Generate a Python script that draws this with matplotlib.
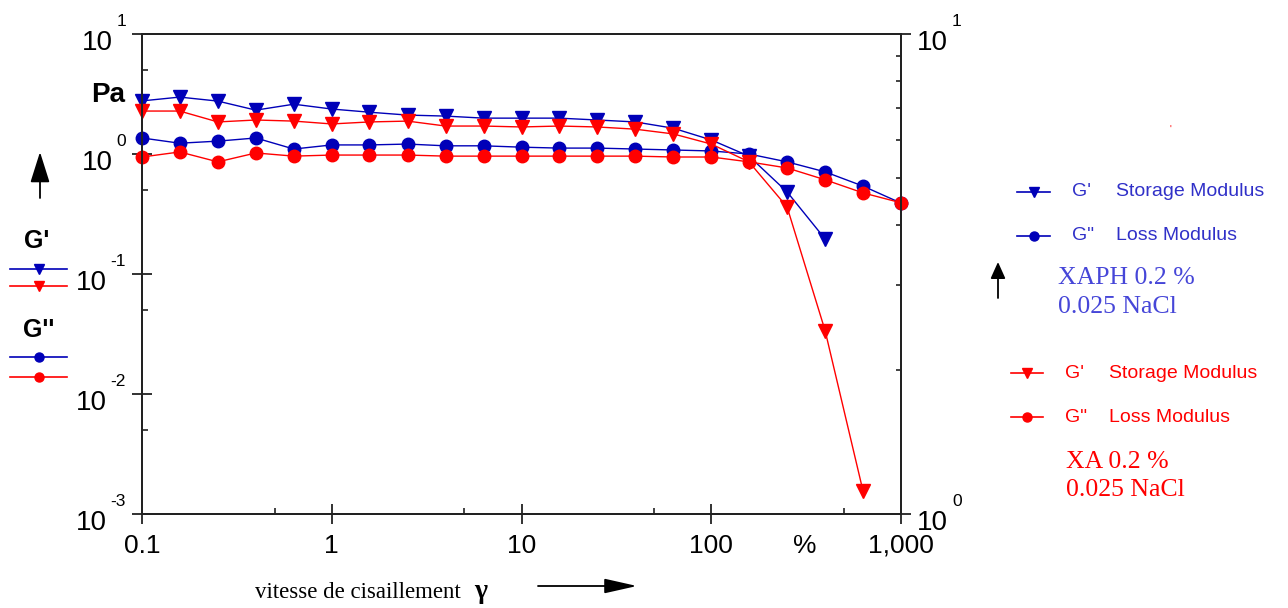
import matplotlib
matplotlib.use('Agg')
import matplotlib.pyplot as plt
from matplotlib.lines import Line2D

W, H = 1288, 608

# shear rate (%) and moduli (Pa)
shear = [0.1, 0.158, 0.251, 0.398, 0.631, 1, 1.58, 2.51, 3.98, 6.31, 10,
         15.8, 25.1, 39.8, 63.1, 100, 158, 251, 398, 631, 1000]

xaph_storage = [2.77, 2.98, 2.76, 2.32, 2.60, 2.37, 2.23, 2.11, 2.07, 1.99,
                1.99, 1.99, 1.92, 1.85, 1.64, 1.31, 0.96, 0.483, 0.196]
xaph_loss = [1.36, 1.23, 1.28, 1.36, 1.10, 1.19, 1.19, 1.21, 1.17, 1.17, 1.14,
             1.12, 1.12, 1.10, 1.08, 1.06, 1.0, 0.86, 0.71, 0.54, 0.39]
xa_storage = [2.28, 2.28, 1.85, 1.92, 1.88, 1.78, 1.85, 1.88, 1.71, 1.71,
              1.68, 1.71, 1.68, 1.61, 1.47, 1.21, 0.86, 0.362, 0.0338, 0.00155]
xa_loss = [0.944, 1.04, 0.86, 1.02, 0.96, 0.98, 0.98, 0.98, 0.96, 0.96, 0.96,
           0.96, 0.96, 0.96, 0.944, 0.944, 0.86, 0.765, 0.61, 0.474, 0.392]

x_ticks = [0.1, 1, 10, 100, 1000]
x_tick_labels = ['0.1', '1', '10', '100', '1,000']
y_exps = [-3, -2, -1, 0, 1]
y2_exps = [0, 1]

BLUE = '#0000b8'
RED = '#ff0000'
BLUE_TXT = '#3030c8'
SANS = 'Liberation Sans'
SERIF = 'Liberation Serif'

plt.rcParams['font.family'] = SANS

fig = plt.figure(figsize=(W / 100, H / 100), dpi=100)
ax = fig.add_axes([142 / W, 1 - 514 / H, (901 - 142) / W, (514 - 34) / H])
ax.set_xscale('log')
ax.set_yscale('log')
ax.set_xlim(0.1, 1000)
ax.set_ylim(1e-3, 10)

n_b = len(xaph_storage)
n_r = len(xa_storage)
ax.plot(shear[:n_b], xaph_storage, color=BLUE, lw=1.0, marker='v', ms=10, clip_on=False, zorder=3)
ax.plot(shear, xaph_loss, color=BLUE, lw=1.0, marker='o', ms=9, clip_on=False, zorder=3)
ax.plot(shear[:n_r], xa_storage, color=RED, lw=1.0, marker='v', ms=10, clip_on=False, zorder=4)
ax.plot(shear, xa_loss, color=RED, lw=1.0, marker='o', ms=9, clip_on=False, zorder=4)

# axes styling
for s in ax.spines.values():
    s.set_linewidth(1.4)
    s.set_color('#222222')
ax.set_xticks(x_ticks)
ax.set_xticks([0.5, 5, 50, 500], minor=True)
ax.set_yticks([10.0 ** e for e in y_exps])
ax.set_yticks([5 * 10.0 ** e for e in y_exps[:-1]], minor=True)
ax.set_xticklabels([])
ax.set_yticklabels([])
ax.set_xticklabels([], minor=True)
ax.set_yticklabels([], minor=True)
ax.tick_params(which='major', direction='inout', length=14, width=1.3, color='#222222')
ax.tick_params(which='minor', direction='in', length=4, width=1.2, color='#222222')

ax2 = ax.twinx()
ax2.set_yscale('log')
ax2.set_ylim(1, 10)
ax2.set_yticks([10.0 ** e for e in y2_exps])
ax2.set_yticks(list(range(2, 10)), minor=True)
ax2.set_yticklabels([])
ax2.set_yticklabels([], minor=True)
ax2.tick_params(which='major', direction='inout', length=14, width=1.3, color='#222222')
ax2.tick_params(which='minor', direction='in', length=3.5, width=1.2, color='#222222')
for s in ax2.spines.values():
    s.set_linewidth(1.4)
    s.set_color('#222222')

# tick labels drawn as 10 + raised exponent
EXP_PT = 12.5
EXP_PX = EXP_PT / 0.72
def exp_width(e):
    s = str(e)
    return EXP_PX * (0.556 * sum(c.isdigit() for c in s) + 0.333 * s.count('-'))

ytr = ax.get_yaxis_transform()
for e in y_exps:
    ew = exp_width(e)
    ax.annotate(str(e), xy=(0, 10.0 ** e), xycoords=ytr, xytext=(-16, 12),
                textcoords='offset pixels', ha='right', va='center', fontsize=EXP_PT)
    ax.annotate('10', xy=(0, 10.0 ** e), xycoords=ytr, xytext=(-16 - ew - 3.5, -9),
                textcoords='offset pixels', ha='right', va='center', fontsize=20)

ytr2 = ax2.get_yaxis_transform()
for e in y2_exps:
    ax2.annotate('10', xy=(1, 10.0 ** e), xycoords=ytr2, xytext=(16, -9),
                 textcoords='offset pixels', ha='left', va='center', fontsize=20)
    ax2.annotate(str(e), xy=(1, 10.0 ** e), xycoords=ytr2, xytext=(51, 12),
                 textcoords='offset pixels', ha='left', va='center', fontsize=EXP_PT)

xtr = ax.get_xaxis_transform()
for v, lab in zip(x_ticks, x_tick_labels):
    ax.annotate(lab, xy=(v, 0), xycoords=xtr, xytext=(0, -32), textcoords='offset pixels',
                ha='center', va='center', fontsize=19)
ax.annotate('%', xy=(0.8735, 0), xycoords='axes fraction', xytext=(0, -32),
            textcoords='offset pixels', ha='center', va='center', fontsize=19)


def ftext(x, y, s, **kw):
    fig.text(x / W, 1 - y / H, s, **kw)


def arrow(x1, y1, x2, y2, hl, hw):
    ax.annotate('', xy=(x2, H - y2), xycoords='figure pixels',
                xytext=(x1, H - y1), textcoords='figure pixels', annotation_clip=False,
                arrowprops=dict(arrowstyle=f'-|>,head_length={hl},head_width={hw}',
                                mutation_scale=10, color='black', lw=1.3,
                                shrinkA=0, shrinkB=0))


def key(x1, x2, y, color, marker, ms):
    fig.add_artist(Line2D([x1 / W, (x1 + x2) / 2 / W, x2 / W], [1 - y / H] * 3,
                          color=color, lw=1.2, marker=marker, ms=ms, markevery=[1],
                          transform=fig.transFigure))


ftext(108, 95, 'Pa', fontsize=20, fontweight='bold', ha='center', va='center')
arrow(40, 198, 40, 152, 1.9, 0.6)

# left key
ftext(37, 241, "G'", fontsize=18, fontweight='bold', ha='center', va='center')
key(10, 67, 269, BLUE, 'v', 7)
key(10, 67, 286, RED, 'v', 7)
ftext(39, 330, "G''", fontsize=18, fontweight='bold', ha='center', va='center')
key(10, 67, 357, BLUE, 'o', 6.5)
key(10, 67, 377, RED, 'o', 6.5)

# right legend
key(1017, 1050, 192, BLUE, 'v', 7)
ftext(1072, 192, "G'", fontsize=14, color=BLUE_TXT, va='center')
ftext(1116, 192, 'Storage Modulus', fontsize=14, color=BLUE_TXT, va='center')
key(1017, 1050, 236, BLUE, 'o', 6.5)
ftext(1072, 236, 'G"', fontsize=14, color=BLUE_TXT, va='center')
ftext(1116, 236, 'Loss Modulus', fontsize=14, color=BLUE_TXT, va='center')
arrow(998, 298, 998, 262, 1.0, 0.45)
ftext(1058, 278, 'XAPH 0.2 %', fontsize=18.5, family=SERIF, color='#4646d8', va='center')
ftext(1058, 307, '0.025 NaCl', fontsize=18.5, family=SERIF, color='#4646d8', va='center')

key(1011, 1043, 373, RED, 'v', 7)
ftext(1065, 373, "G'", fontsize=14, color=RED, va='center')
ftext(1109, 373, 'Storage Modulus', fontsize=14, color=RED, va='center')
key(1011, 1043, 417, RED, 'o', 6.5)
ftext(1065, 417, 'G"', fontsize=14, color=RED, va='center')
ftext(1109, 417, 'Loss Modulus', fontsize=14, color=RED, va='center')
ftext(1066, 462, 'XA 0.2 %', fontsize=18.5, family=SERIF, color=RED, va='center')
ftext(1066, 490, '0.025 NaCl', fontsize=18.5, family=SERIF, color=RED, va='center')
ftext(1170, 130, "'", fontsize=7, color=RED, ha='center', va='center')

# x axis title
ftext(255, 593, 'vitesse de cisaillement', fontsize=16.5, family=SERIF, va='center')
ftext(474, 591, 'γ', fontsize=20, family=SERIF, fontweight='bold', va='center')
arrow(538, 586, 637, 586, 2.0, 0.45)

fig.savefig('out.png', dpi=100)
